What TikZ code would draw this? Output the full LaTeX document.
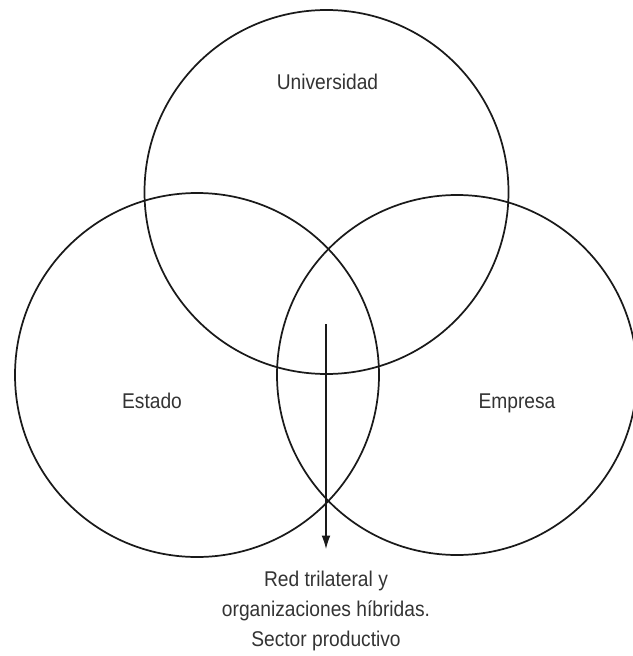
\documentclass[tikz,border=0pt]{standalone}
\usepackage{fontspec}
\setmainfont{Liberation Sans}[FakeStretch=0.9]
\usetikzlibrary{arrows.meta}
\definecolor{inkline}{HTML}{1A1A1A}
\definecolor{inktext}{HTML}{333333}
\begin{document}
\begin{tikzpicture}[x=0.75pt,y=-0.75pt,
  ring/.style={circle,draw=inkline,line width=1.3pt,minimum size=273pt,inner sep=0pt},
  lbl/.style={text=inktext,font=\fontsize{16pt}{22.5pt}\selectfont,inner sep=0pt},
  flow/.style={draw=inkline,line width=0.8pt,-{Latex[length=10pt,width=6.5pt]}}]
\useasboundingbox (0,0) rectangle (632,656);
\node[ring] (uni) at (326.5,192) {};
\node[ring] (est) at (197,375) {};
\node[ring,minimum size=270pt] (emp) at (457,375) {};
\node[lbl,anchor=base] (tuni) at (327.5,90) {Universidad};
\node[lbl,anchor=base] (test) at (152,408) {Estado};
\node[lbl,anchor=base] (temp) at (517,408) {Empresa};
\coordinate (src) at (326,324);
\coordinate (dst) at (326,549);
\draw[flow] (src) -- (dst);
\node[lbl,anchor=north,align=center] (red) at (326,571) {Red trilateral y\\organizaciones híbridas.\\Sector productivo};
\end{tikzpicture}
\end{document}
